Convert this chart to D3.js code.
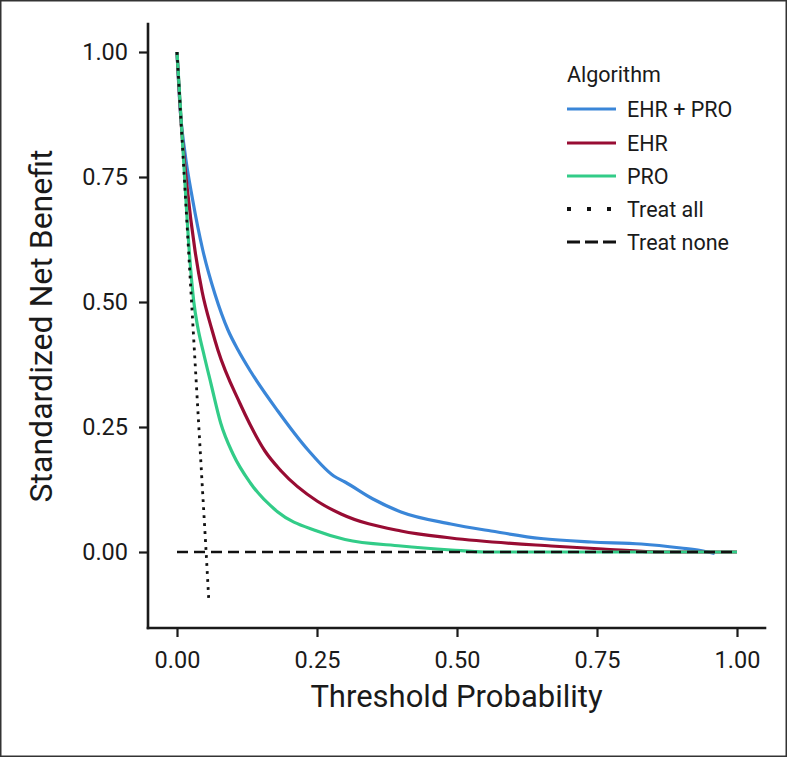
<!DOCTYPE html>
<html>
<head>
<meta charset="utf-8">
<script src="https://cdn.jsdelivr.net/npm/d3@7"></script>
<style>
  html, body { margin: 0; padding: 0; background: #fff; }
  svg { display: block; }
  text { font-family: Roboto, "Liberation Sans", Arial, sans-serif; fill: #1a1a1a; }
</style>
</head>
<body>
<svg id="chart" width="787" height="757"></svg>
<script>
// ---- Data ----
const seriesNames = ["EHR + PRO", "EHR", "PRO"];
const seriesColors = ["#3A86D8", "#980C33", "#32CC88"];

const ehrProX = [0, 0.006, 0.014, 0.028, 0.046, 0.068, 0.091, 0.109, 0.131, 0.18, 0.234, 0.28, 0.3, 0.35, 0.4, 0.489, 0.561, 0.65, 0.74, 0.829, 0.9, 0.935, 0.96];
const ehrProY = [1.0, 0.88, 0.8, 0.704, 0.604, 0.515, 0.444, 0.404, 0.362, 0.282, 0.204, 0.152, 0.14, 0.106, 0.08, 0.056, 0.042, 0.027, 0.02, 0.016, 0.008, 0.003, -0.003];

const ehrX = [0, 0.008, 0.018, 0.032, 0.045, 0.0625, 0.073, 0.1125, 0.13, 0.157, 0.186, 0.25, 0.293, 0.4, 0.489, 0.668, 0.76, 0.87, 1.0];
const ehrY = [1.0, 0.85, 0.73, 0.604, 0.52, 0.444, 0.404, 0.297, 0.256, 0.202, 0.162, 0.102, 0.076, 0.042, 0.028, 0.012, 0.006, 0.0, 0.0];

const proX = [0, 0.012, 0.022, 0.03, 0.037, 0.047, 0.061, 0.078, 0.1, 0.131, 0.18, 0.25, 0.3, 0.4, 0.49, 0.55, 1.0];
const proY = [1.0, 0.78, 0.6, 0.5, 0.45, 0.4, 0.335, 0.258, 0.196, 0.138, 0.08, 0.042, 0.025, 0.012, 0.004, 0.0, 0.0];

const treatAllX = [0, 0.026, 0.052, 0.0567];
const treatAllY = [1.0, 0.5, 0.0, -0.095];

const treatNoneX = [0, 1.0];
const treatNoneY = [0, 0];

const xTicks = [0, 0.25, 0.5, 0.75, 1.0];
const yTicks = [0, 0.25, 0.5, 0.75, 1.0];
const xTitle = "Threshold Probability";
const yTitle = "Standardized Net Benefit";
const legendTitle = "Algorithm";
const refNames = ["Treat all", "Treat none"];

// ---- Layout ----
const svg = d3.select("#chart");
const x = d3.scaleLinear().domain([0, 1]).range([177, 737]);
const y = d3.scaleLinear().domain([0, 1]).range([552, 52]);
const axisLeftX = 148, axisBottomY = 628;
const yTop = 24, xRight = 765;
const FONT = "Roboto, 'Liberation Sans', Arial, sans-serif";

// border
svg.append("rect").attr("x", 0.75).attr("y", 0.75).attr("width", 785.5).attr("height", 755.5)
  .attr("fill", "none").attr("stroke", "#333").attr("stroke-width", 1.5);

// axes
const fmt = d3.format(".2f");
const gy = svg.append("g").attr("transform", `translate(${axisLeftX},0)`)
  .call(d3.axisLeft(y).tickValues(yTicks).tickFormat(fmt).tickSize(9).tickPadding(11));
gy.select(".domain").attr("d", `M0,${yTop}V${axisBottomY}`);
const gx = svg.append("g").attr("transform", `translate(0,${axisBottomY})`)
  .call(d3.axisBottom(x).tickValues(xTicks).tickFormat(fmt).tickSize(9).tickPadding(14));
gx.select(".domain").attr("d", `M${axisLeftX},0H${xRight}`);
[gx, gy].forEach(g => {
  g.attr("font-family", FONT).attr("font-size", 23.5);
  g.selectAll(".domain").attr("stroke", "#1a1a1a").attr("stroke-width", 2.6).attr("stroke-linecap", "square");
  g.selectAll(".tick line").attr("stroke", "#1a1a1a").attr("stroke-width", 2.2);
  g.selectAll(".tick text").attr("font-size", 23.5).attr("fill", "#1a1a1a").attr("font-family", FONT);
});

// titles
svg.append("text").attr("x", 456.5).attr("y", 707).attr("text-anchor", "middle")
  .attr("font-size", 31).text(xTitle);
svg.append("text").attr("transform", `translate(52,326) rotate(-90)`).attr("text-anchor", "middle")
  .attr("font-size", 32).text(yTitle);

// curves
const line = d3.line().x(d => x(d[0])).y(d => y(d[1])).curve(d3.curveMonotoneX);
const seriesData = [d3.zip(ehrProX, ehrProY), d3.zip(ehrX, ehrY), d3.zip(proX, proY)];
seriesData.forEach((pts, i) => {
  svg.append("path").attr("d", line(pts)).attr("fill", "none")
    .attr("stroke", seriesColors[i]).attr("stroke-width", 3.2).attr("stroke-linejoin", "round");
});

// reference lines
const lin = d3.line().x(d => x(d[0])).y(d => y(d[1]));
svg.append("path").attr("d", lin(d3.zip(treatNoneX, treatNoneY))).attr("fill", "none")
  .attr("stroke", "#111").attr("stroke-width", 2.6).attr("stroke-dasharray", "11,6");
svg.append("path").attr("d", lin(d3.zip(treatAllX, treatAllY))).attr("fill", "none")
  .attr("stroke", "#111").attr("stroke-width", 2.8).attr("stroke-dasharray", "2.8,5.2");

// legend
const lg = svg.append("g");
lg.append("text").attr("x", 567).attr("y", 82).attr("font-size", 21.5).text(legendTitle);
const rowY = [109, 143, 176, 209, 242];
const legendItems = seriesNames.map((n, i) => ({ name: n, color: seriesColors[i], dash: null, w: 3.2 }))
  .concat([{ name: refNames[0], color: "#111", dash: "4,16", w: 4 },
           { name: refNames[1], color: "#111", dash: "13,5", w: 3.2 }]);
legendItems.forEach((it, i) => {
  const ln = lg.append("line").attr("x1", 567).attr("x2", 616).attr("y1", rowY[i]).attr("y2", rowY[i])
    .attr("stroke", it.color).attr("stroke-width", it.w);
  if (it.dash) ln.attr("stroke-dasharray", it.dash);
  lg.append("text").attr("x", 627).attr("y", rowY[i] + 7.5).attr("font-size", 21.5).text(it.name);
});
</script>
</body>
</html>
